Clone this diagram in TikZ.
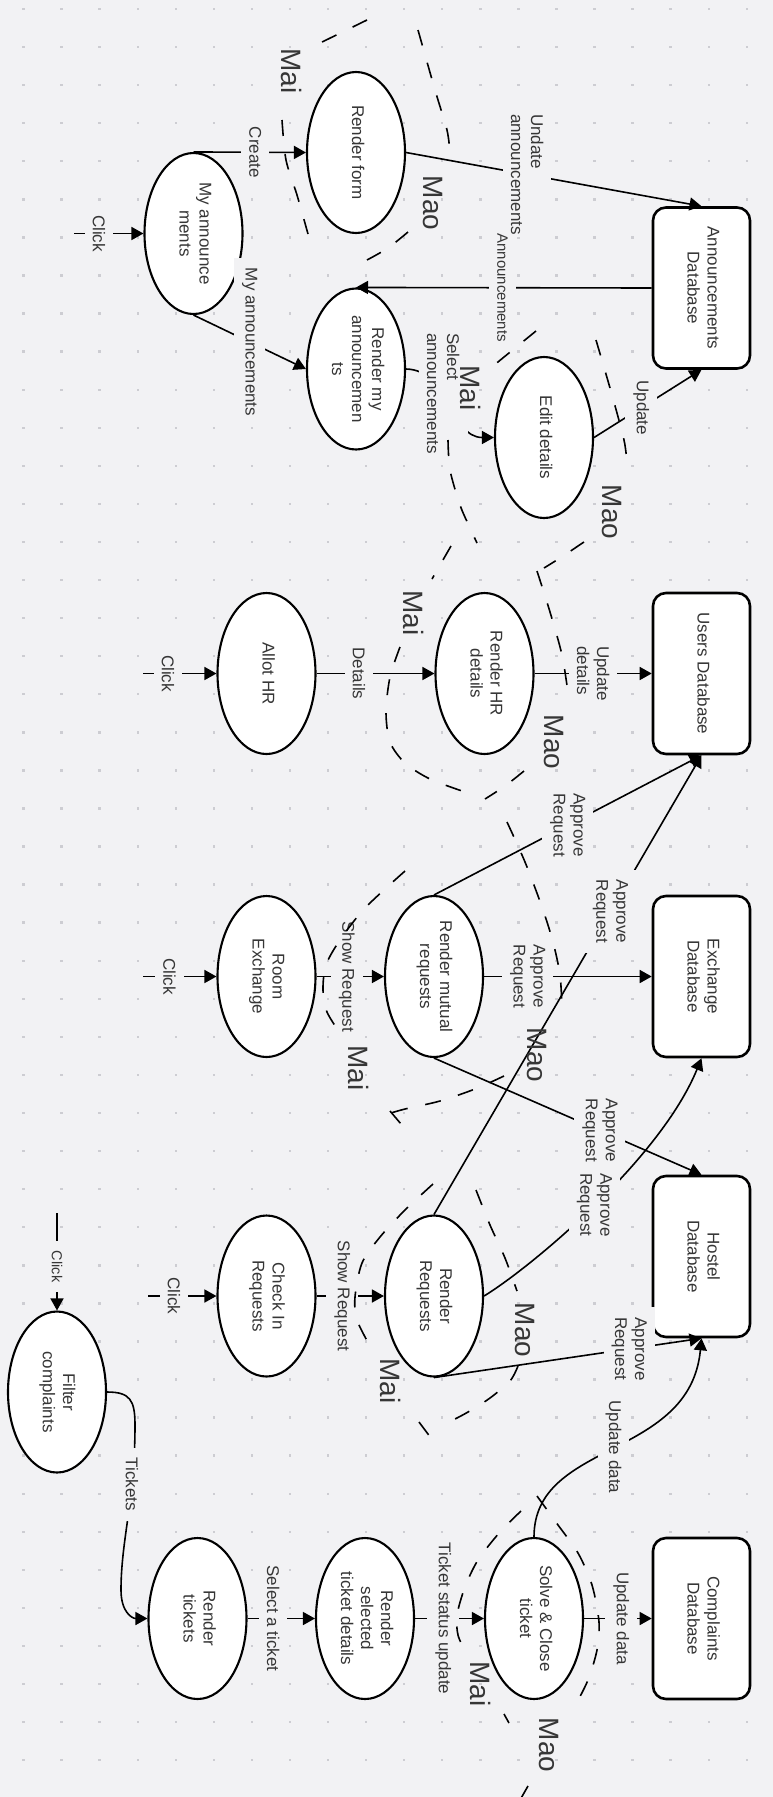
\documentclass[tikz,border=0pt]{standalone}
\usepackage{graphicx}
\usepackage{fontspec}
\setmainfont{Liberation Sans}
\usetikzlibrary{arrows.meta,shapes.geometric}
\definecolor{bg}{HTML}{F2F2F4}
\definecolor{dotc}{HTML}{CDCDD2}
\definecolor{txt}{HTML}{363636}
\newcommand{\vtxt}[1]{\rotatebox{-90}{\begin{tabular}{@{}c@{}}#1\end{tabular}}}
\begin{document}
\begin{tikzpicture}[x=1pt,y=-1pt,
  proc/.style={ellipse, draw=black, line width=2.1pt, fill=white, minimum width=98pt, minimum height=161pt, inner sep=0pt, text=txt, font=\fontsize{17}{20}\selectfont},
  db/.style={rectangle, rounded corners=13pt, draw=black, line width=2.6pt, fill=white, minimum width=97pt, minimum height=161pt, inner sep=0pt, text=txt, font=\fontsize{17}{20}\selectfont},
  edge/.style={line width=1.6pt, -{Triangle[length=12pt,width=13pt]}},
  lbl/.style={fill=bg, rotate=-90, text=txt, font=\fontsize{17}{20}\selectfont, inner xsep=10pt, inner ysep=8pt, align=left},
  dsh/.style={line width=1.6pt, dash pattern=on 16pt off 18pt},
  tag/.style={rotate=-90, text=txt, font=\fontsize{28}{32}\selectfont, inner sep=0pt}
]
\useasboundingbox (0,0) rectangle (773,1797);
\fill[bg] (0,0) rectangle (773,1797);
\foreach \i in {0,...,19} {
  \foreach \j in {0,...,46} {
    \fill[dotc] ({23.5+38.07*\i-1.2},{9+38.07*\j-1.2}) rectangle ++(2.4,2.4);
  }
}

% processes and stores
\node[proc] (myann) at (193.5,233.5) {\vtxt{My announce\\ments}};
\node[proc] (rform) at (356,152.5) {\vtxt{Render form}};
\node[proc] (rmyann) at (356,369) {\vtxt{Render my\\announcemen\\ts}};
\node[proc] (edit) at (544,437.5) {\vtxt{Edit details}};
\node[db] (annDB) at (701.5,288) {\vtxt{Announcements\\Database}};
\node[proc] (allot) at (266.5,673.5) {\vtxt{Allot HR}};
\node[proc] (rhr) at (484.5,673.5) {\vtxt{Render HR\\details}};
\node[db] (usersDB) at (701.5,673.5) {\vtxt{Users Database}};
\node[proc] (roomex) at (266.5,976.5) {\vtxt{Room\\Exchange}};
\node[proc] (rmutual) at (434,976.5) {\vtxt{Render mutual\\requests}};
\node[db] (exDB) at (701.5,976.5) {\vtxt{Exchange\\Database}};
\node[proc] (checkin) at (266.5,1296) {\vtxt{Check In\\Requests}};
\node[proc] (rreq) at (434,1296) {\vtxt{Render\\Requests}};
\node[db] (hostelDB) at (701.5,1256.5) {\vtxt{Hostel\\Database}};
\node[proc] (filter) at (57,1392) {\vtxt{Filter\\complaints}};
\node[proc] (rtickets) at (197.5,1618.5) {\vtxt{Render\\tickets}};
\node[proc] (rsel) at (365,1618.5) {\vtxt{Render\\selected\\ticket details}};
\node[proc] (solve) at (534,1618.5) {\vtxt{Solve \& Close\\ticket}};
\node[db] (compDB) at (701.5,1618.5) {\vtxt{Complaints\\Database}};

% connectors
\coordinate (c1) at (74,233.5);
\draw[edge] (c1) -- node[lbl,pos=0.36]{Click} (myann.west);
\draw[edge] (myann.north) -- node[lbl,pos=0.55]{Create} (rform.west);
\draw[edge] (myann.south) -- node[lbl,pos=0.5]{My announcements} (rmyann.west);
\draw[edge] (rform.east) -- node[lbl,pos=0.41,inner xsep=2pt]{Undate\\announcements} (annDB.north);
\draw[edge] (annDB.west) -- node[lbl,pos=0.505,inner xsep=0pt,font=\fontsize{15}{18}\selectfont]{Announcements} (rmyann.north);
\draw[edge] (rmyann.east) .. controls (450,370) and (450,437.5) .. node[lbl,pos=0.4]{Select\\announcements} (edit.west);
\draw[edge] (edit.east) -- node[lbl,pos=0.44]{Update} (annDB.south);

\coordinate (c2) at (143,673.5);
\draw[edge] (c2) -- node[lbl,pos=0.34]{Click} (allot.west);
\draw[edge] (allot.east) -- node[lbl,pos=0.36]{Details} (rhr.west);
\draw[edge] (rhr.east) -- node[lbl,pos=0.5]{Update\\details} (usersDB.west);

\coordinate (c3) at (143,976.5);
\draw[edge] (c3) -- node[lbl,pos=0.36]{Click} (roomex.west);
\draw[edge] (roomex.east) -- node[lbl,pos=0.45]{Show Request} (rmutual.west);
\draw[edge] (rmutual.east) -- node[lbl,pos=0.26]{Approve\\Request} (exDB.west);
\draw[edge] (rmutual.north) -- node[lbl,pos=0.5]{Approve\\Request} (usersDB.south);
\draw[edge] (rmutual.south) -- node[lbl,pos=0.62]{Approve\\Request} (hostelDB.north);

\coordinate (c4) at (148,1296);
\draw[edge] (c4) -- node[lbl,pos=0.38]{Click} (checkin.west);
\draw[edge] (checkin.east) -- node[lbl,pos=0.38]{Show Request} (rreq.west);
\draw[edge] (rreq.north) -- node[lbl,pos=0.66]{Approve\\Request} (usersDB.south);
\draw[edge] (rreq.east) .. controls (530,1268) and (660,1160) .. node[lbl,pos=0.5]{Approve\\Request} (exDB.south);
\draw[edge] (rreq.south) -- node[lbl,pos=0.73]{Approve\\Request} (hostelDB.south);

\coordinate (c5) at (57,1213);
\draw[edge] (c5) -- node[lbl,pos=0.55,font=\fontsize{14.5}{17}\selectfont]{Click} (filter.north);
\draw[edge] (filter.east) .. controls (130,1392) and (135,1400) .. (135,1425) .. controls (135,1500) and (121,1540) .. node[lbl,pos=0.3]{Tickets} (121,1590) .. controls (121,1612) and (132,1618.5) .. (rtickets.west);
\draw[edge] (rtickets.east) -- node[lbl,pos=0.38]{Select a ticket} (rsel.west);
\draw[edge] (rsel.east) -- node[lbl,pos=0.41]{Ticket status update} (solve.west);
\draw[edge] (solve.east) -- node[lbl,pos=0.55]{Update data} (compDB.west);
\draw[edge] (solve.north) .. controls (534,1440) and (690,1460) .. node[lbl,pos=0.5]{Update data} (hostelDB.south);

% dashed boundaries
\draw[dsh] plot[smooth] coordinates {(367,20) (318,44)};
\draw[dsh] plot[smooth] coordinates {(282,120) (286,160) (297,195) (308,234)};
\node[tag] (mai1) at (292,71) {Mai};
\draw[dsh] plot[smooth] coordinates {(418,30) (435,90) (447,130) (450,153)};
\draw[dsh] plot[smooth] coordinates {(408,232) (388,248) (367,260)};
\node[tag] (mao1) at (433,203) {Mao};

\draw[dsh] plot[smooth] coordinates {(536,331) (493,366)};
\draw[dsh] plot[smooth] coordinates {(448,440) (450,470) (460,505) (470,528) (477,543)};
\node[tag] (mai2) at (471,388) {Mai};
\draw[dsh] plot[smooth] coordinates {(596,340) (612,395) (624,440) (627,463)};
\draw[dsh] plot[smooth] coordinates {(584,542) (560,558) (544,568)};
\node[tag] (mao2) at (612,512) {Mao};

\draw[dsh] plot[smooth] coordinates {(451,546) (432,579)};
\draw[dsh] plot[smooth] coordinates {(400,647) (390,677) (386,712) (390,742) (405,763) (430,779) (465,792)};
\node[tag] (mai3) at (414,613) {Mai};
\draw[dsh] plot[smooth] coordinates {(537,571) (550,612) (562,655) (568,693)};
\draw[dsh] plot[smooth] coordinates {(524,771) (505,786) (485,799)};
\node[tag] (mao3) at (554,742) {Mao};

\draw[dsh] plot[smooth] coordinates {(405,871) (365,908) (340,940) (326,965) (323,990) (327,1012) (340,1033)};
\draw[dsh] plot[smooth] coordinates {(390,1111) (401,1124)};
\node[tag] (mai4) at (359,1068) {Mai};
\draw[dsh] plot[smooth] coordinates {(507,822) (525,862) (542,907) (553,942) (560,975) (562,1008)};
\draw[dsh] plot[smooth] coordinates {(504,1076) (475,1089) (440,1101) (405,1109) (391,1113)};
\node[tag] (mao4) at (537,1055) {Mao};

\draw[dsh] plot[smooth] coordinates {(433,1184) (405,1210) (380,1237) (362,1263) (355,1297) (357,1320) (370,1346)};
\draw[dsh] plot[smooth] coordinates {(419,1422) (431,1438)};
\node[tag] (mai5) at (391,1381) {Mai};
\draw[dsh] plot[smooth] coordinates {(476,1190) (490,1225) (505,1258) (517,1291)};
\draw[dsh] plot[smooth] coordinates {(518,1366) (510,1381) (490,1398) (468,1412) (455,1419)};
\node[tag] (mao5) at (525,1330) {Mao};

\draw[dsh] plot[smooth] coordinates {(521,1511) (500,1532) (478,1560) (465,1587) (457,1615) (458,1635) (465,1651)};
\draw[dsh] plot[smooth] coordinates {(504,1714) (509,1723)};
\node[tag] (mai6) at (481,1684) {Mai};
\draw[dsh] plot[smooth] coordinates {(537,1496) (558,1525) (578,1553) (592,1585) (599,1622) (597,1650) (588,1680) (575,1706)};
\draw[dsh] plot[smooth] coordinates {(528,1786) (520,1800)};
\node[tag] (mao6) at (548.5,1745) {Mao};
\end{tikzpicture}
\end{document}
